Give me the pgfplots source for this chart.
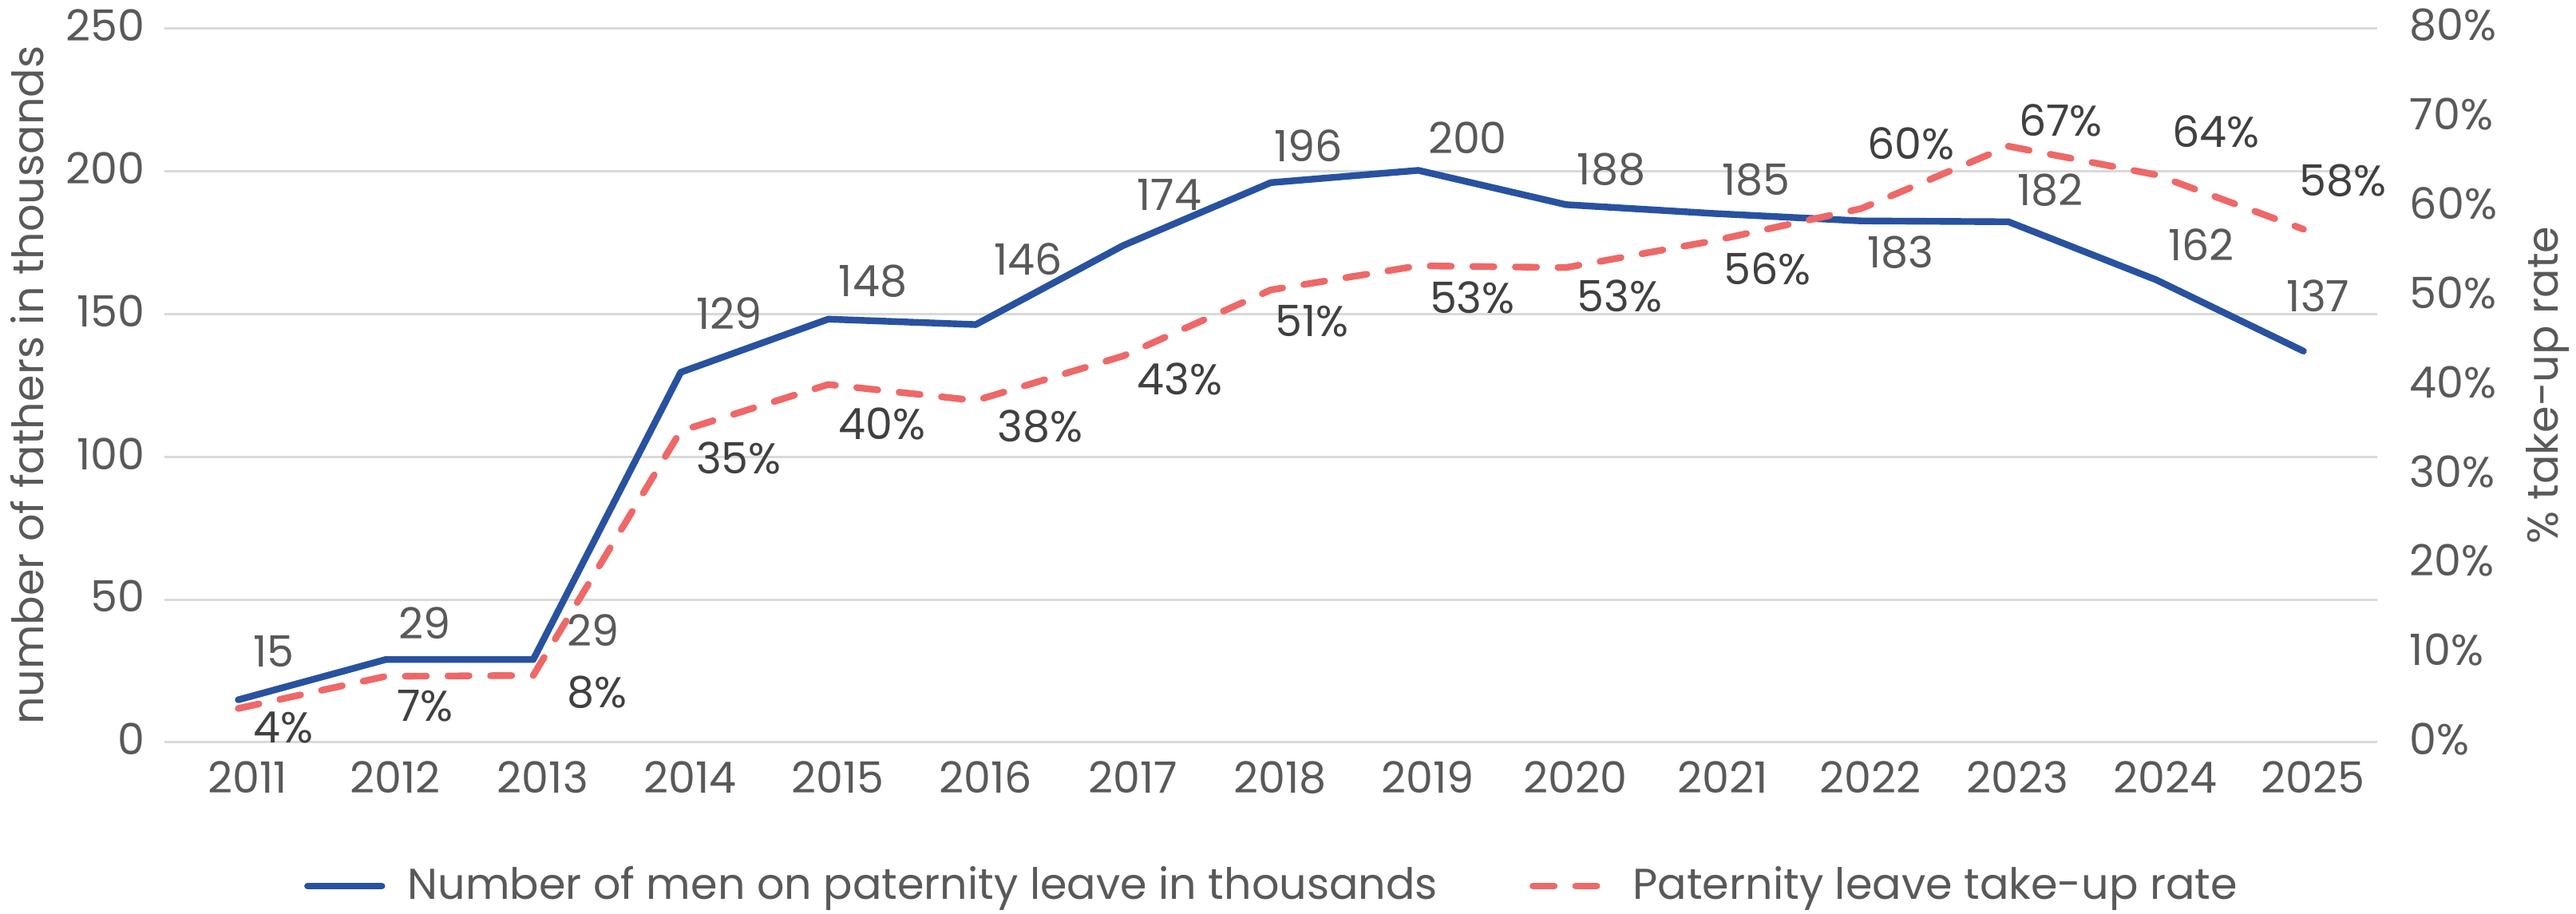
\documentclass[border=0pt]{standalone}
\usepackage{fontspec}
\setmainfont{Poppins}
\usepackage{pgfplots}
\usepackage{pgfplotstable}
\pgfplotsset{compat=1.18}

\definecolor{lineblue}{HTML}{2852A0}
\definecolor{linered}{HTML}{EE6868}
\definecolor{txtgray}{HTML}{595959}
\definecolor{txtdark}{HTML}{404040}
\definecolor{gridgray}{HTML}{D9D9D9}

% number of fathers (thousands); ab=1 label above, dx/dy label offset in pt
\pgfplotstableread{
year val lab ab dx dy
2011 14.9 15 1 3.75 9.25
2012 29.0 29 1 3 5.25
2013 29.0 29 1 9.5 3
2014 129.6 129 1 3.75 12.5
2015 148.2 148 1 2.25 5.75
2016 146.3 146 1 4.75 14.5
2017 174.0 174 1 3.25 10
2018 196.0 196 1 0 5.5
2019 200.3 200 1 2 4.25
2020 188.3 188 1 2.5 5
2021 185.2 185 1 1.75 4.5
2022 182.6 183 0 1 -3.75
2023 182.3 182 1 1.75 3.75
2024 162.0 162 1 2.75 5
2025 137.0 137 1 -6.25 11.25
}\fathers

% take-up rate in percent
\pgfplotstableread{
year val lab ab dx dy
2011 3.8 4 0 3.75 0
2012 7.4 7 0 2.5 -3.25
2013 7.5 8 0 9.5 0.75
2014 34.9 35 0 3.75 -2.5
2015 40.1 40 0 2.25 -6.25
2016 38.3 38 0 5.75 -2
2017 43.3 43 0 3.25 -1.25
2018 50.7 51 0 0.25 -3.75
2019 53.4 53 0 2.5 -4
2020 53.2 53 0 2.5 -2.75
2021 56.2 56 0 2.25 -2.75
2022 59.8 60 1 1 14.25
2023 66.8 67 1 2.25 2
2024 63.6 64 1 4 7.5
2025 57.5 58 1 -2.25 9
}\takeup

\pgfplotsset{
  base/.style={
    scale only axis, width=693pt, height=223.6pt,
    at={(0,0)}, anchor=south west,
    xmin=2010.5, xmax=2025.5,
    axis line style={draw=none}, tick style={draw=none}, major tick length=0pt,
    /pgf/number format/1000 sep={}, /pgf/number format/assume math mode=true,
    tick label style={text=txtgray, inner sep=0pt},
    clip=false,
  },
  labels/.style={
    nodes near coords={#1}, point meta=explicit symbolic,
    visualization depends on={\thisrow{ab} \as \labab},
    visualization depends on={\thisrow{dx} \as \labdx},
    visualization depends on={\thisrow{dy} \as \labdy},
    every node near coord/.append style={inner sep=0pt,
      anchor={\ifdim\labab pt>0.5pt south west\else north west\fi},
      xshift=\labdx pt, yshift=\labdy pt},
  },
  bluestyle/.style={lineblue, line width=2.1pt, line join=round, line cap=round},
  redstyle/.style={linered, line width=2.1pt, line join=round, line cap=round,
    dash pattern=on 6.65pt off 6.7pt},
}

\begin{document}
\fontsize{13.5}{16}\selectfont
\begin{tikzpicture}
\path[use as bounding box] (-51.5pt,-53.75pt) rectangle (755.25pt,232.5pt);

\begin{axis}[
  base,
  axis y line*=left, axis x line*=bottom,
  ymin=0, ymax=250, ytick={0,50,...,250},
  xtick={2011,...,2025},
  xticklabel style={anchor=north, yshift=-5.75pt, xshift=3pt},
  yticklabel style={anchor=east, xshift=-6pt, yshift=1pt},
  ymajorgrids, grid style={gridgray, line width=0.75pt},
  ylabel={number of fathers in thousands},
  every axis y label/.style={at={(axis description cs:-0.0620,0.5)}, rotate=90, anchor=center, text=txtgray},
  legend columns=2,
  legend cell align=left,
  legend image code/.code={\draw[#1] (0pt,0pt) -- (23.25pt,0pt);},
  legend style={at={(axis description cs:0.5,0)}, anchor=center, yshift=-45pt,
    draw=none, fill=none, inner sep=0pt, nodes={inner sep=0pt, text=txtgray},
    /tikz/every odd column/.append style={column sep=7pt},
    /tikz/every even column/.append style={column sep=28.75pt}},
]
\addplot[bluestyle, forget plot, labels={\pgfplotspointmeta},
  every node near coord/.append style={text=txtgray}]
  table[x=year, y=val, meta=lab]{\fathers};
\addlegendimage{bluestyle}
\addlegendentry{Number of men on paternity leave in thousands}
\addlegendimage{redstyle}
\addlegendentry{Paternity leave take-up rate}
\end{axis}

\begin{axis}[
  base,
  axis y line*=right, axis x line=none,
  ymin=0, ymax=80, ytick={0,10,...,80},
  yticklabel={\pgfmathprintnumber{\tick}\%},
  yticklabel style={anchor=west, xshift=10pt, yshift=1pt},
  ylabel={\% take-up rate},
  every axis y label/.style={at={(axis description cs:1.0770,0.5)}, rotate=90, anchor=center, text=txtgray},
]
\addplot[redstyle, forget plot, labels={\pgfplotspointmeta\%},
  every node near coord/.append style={text=txtdark}]
  table[x=year, y=val, meta=lab]{\takeup};
\end{axis}
\end{tikzpicture}
\end{document}
